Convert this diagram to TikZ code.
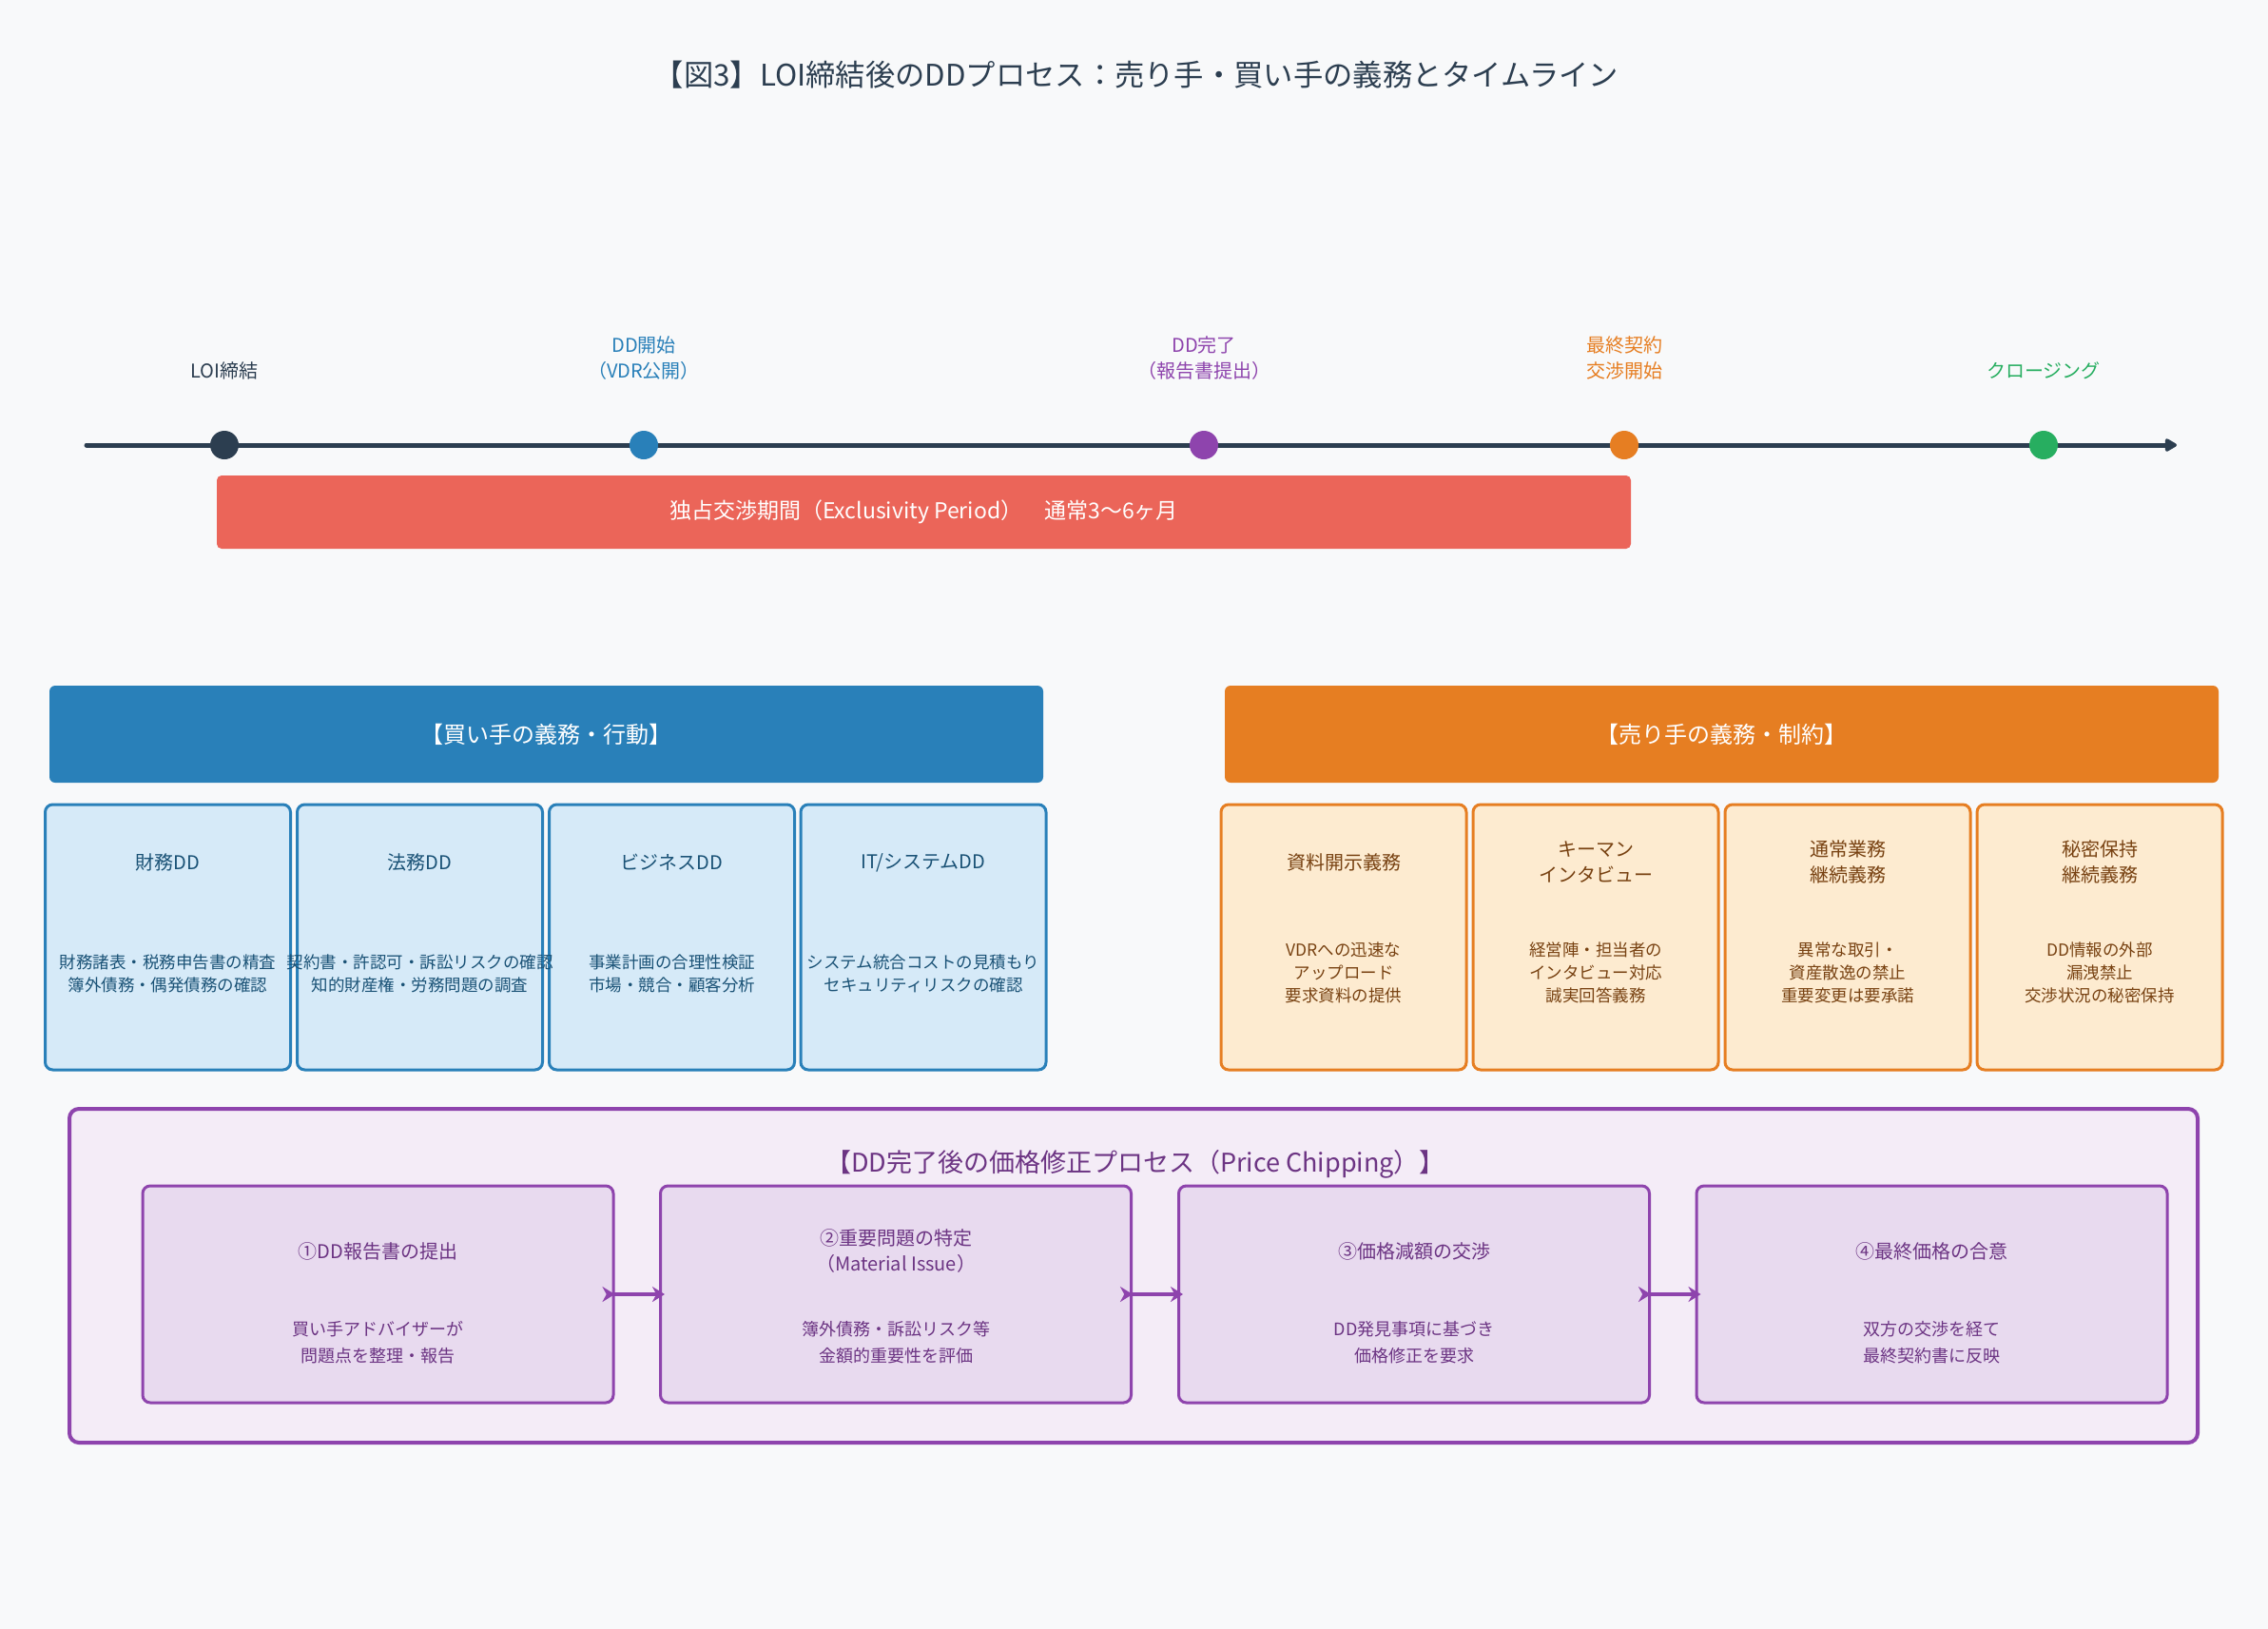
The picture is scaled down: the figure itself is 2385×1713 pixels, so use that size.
\documentclass[tikz,border=0pt]{standalone}
\usepackage{fontspec}
\setmainfont{Noto Sans CJK JP}
\usetikzlibrary{arrows.meta}
\definecolor{bg}{HTML}{F8F9FA}
\definecolor{navy}{HTML}{2C3E50}
\definecolor{cblue}{HTML}{2980B9}
\definecolor{cpurple}{HTML}{8E44AD}
\definecolor{corange}{HTML}{E67E22}
\definecolor{cgreen}{HTML}{27AE60}
\definecolor{cred}{HTML}{EB6559}
\definecolor{lblue}{HTML}{D6EAF8}
\definecolor{lorange}{HTML}{FDEBD0}
\definecolor{lpurple}{HTML}{E8DAEF}
\definecolor{llpurple}{HTML}{F4ECF7}
\definecolor{tblue}{HTML}{1A5276}
\definecolor{tbrown}{HTML}{784212}
\definecolor{tpurple}{HTML}{6C3483}
\newcommand\myfs[2]{\fontsize{#1}{#2}\selectfont}
\tikzset{
  box/.style={draw, rounded corners=8pt, line width=3pt, inner sep=0pt, minimum width=258pt, minimum height=279pt},
  bbox/.style={box, draw=cblue, fill=lblue},
  sbox/.style={box, draw=corange, fill=lorange},
  hdr/.style={rounded corners=6pt, inner sep=0pt, minimum width=1045pt, minimum height=102pt, text=white, font=\myfs{24}{30}},
  stepbox/.style={draw=cpurple, fill=lpurple, rounded corners=8pt, line width=3pt, minimum width=495pt, minimum height=228pt, inner sep=0pt},
  ttl/.style={align=center, font=\myfs{20}{27}, inner sep=0pt},
  bodytxt/.style={align=center, font=\myfs{17.5}{24}, inner sep=0pt},
  stepbody/.style={align=center, font=\myfs{18}{28}, inner sep=0pt, text=tpurple},
  lbl/.style={align=center, font=\myfs{20}{27}, inner sep=0pt},
  dot/.style={circle, minimum size=30pt, inner sep=0pt},
  flow/.style={draw=cpurple, line width=4.5pt, {Stealth[reversed,length=13pt,width=16pt]}-{Stealth[length=13pt,width=16pt]}, shorten <=-13pt, shorten >=-6pt}
}
\begin{document}
\begin{tikzpicture}[x=1pt,y=-1pt]
\useasboundingbox (0,0) rectangle (2385,1713);
\fill[bg] (0,0) rectangle (2385,1713);

% title
\node[font=\myfs{31.3}{36}, text=navy, inner sep=0pt] (title) at (1195,79) {【図3】LOI締結後のDDプロセス：売り手・買い手の義務とタイムライン};

% timeline
\coordinate (tlstart) at (91,468);
\coordinate (tlend) at (2289,468);
\draw[navy, line width=5pt, line cap=round, -{Triangle[length=14pt,width=15pt,round]}] (tlstart) -- (tlend);

\node[dot, fill=navy] (d1) at (236,468) {};
\node[dot, fill=cblue] (d2) at (677,468) {};
\node[dot, fill=cpurple] (d3) at (1266,468) {};
\node[dot, fill=corange] (d4) at (1708,468) {};
\node[dot, fill=cgreen] (d5) at (2149,468) {};

\node[lbl, text=navy] (l1) at (236,390) {LOI締結};
\node[lbl, text=cblue] (l2) at (677,376.5) {DD開始\\（VDR公開）};
\node[lbl, text=cpurple] (l3) at (1266,376.5) {DD完了\\（報告書提出）};
\node[lbl, text=corange] (l4) at (1708,376.5) {最終契約\\交渉開始};
\node[lbl, text=cgreen] (l5) at (2149,390) {クロージング};

% exclusivity bar
\node[fill=cred, rounded corners=5pt, minimum width=1487pt, minimum height=77pt, inner sep=0pt, text=white, font=\myfs{23}{27}] (excl) at (971.5,538.5) {独占交渉期間（Exclusivity Period）　通常3〜6ヶ月};

% buyer
\node[hdr, fill=cblue] (bh) at (574.5,772) {【買い手の義務・行動】};
\node[bbox] (b1) at (176.5,985.5) {};
\node[bbox] (b2) at (441.5,985.5) {};
\node[bbox] (b3) at (706.5,985.5) {};
\node[bbox] (b4) at (971,985.5) {};
\node[ttl, text=tblue] (b1t) at (176.5,907) {財務DD};
\node[ttl, text=tblue] (b2t) at (441.5,907) {法務DD};
\node[ttl, text=tblue] (b3t) at (706.5,907) {ビジネスDD};
\node[ttl, text=tblue] (b4t) at (971,907) {IT/システムDD};
\node[bodytxt, text=tblue] (b1b) at (176.5,1023.5) {財務諸表・税務申告書の精査\\簿外債務・偶発債務の確認};
\node[bodytxt, text=tblue] (b2b) at (441.5,1023.5) {契約書・許認可・訴訟リスクの確認\\知的財産権・労務問題の調査};
\node[bodytxt, text=tblue] (b3b) at (706.5,1023.5) {事業計画の合理性検証\\市場・競合・顧客分析};
\node[bodytxt, text=tblue] (b4b) at (971,1023.5) {システム統合コストの見積もり\\セキュリティリスクの確認};

% seller
\node[hdr, fill=corange] (sh) at (1810.5,772) {【売り手の義務・制約】};
\node[sbox] (s1) at (1413,985.5) {};
\node[sbox] (s2) at (1678,985.5) {};
\node[sbox] (s3) at (1943,985.5) {};
\node[sbox] (s4) at (2208,985.5) {};
\node[ttl, text=tbrown] (s1t) at (1413,907) {資料開示義務};
\node[ttl, text=tbrown] (s2t) at (1678,906.5) {キーマン\\インタビュー};
\node[ttl, text=tbrown] (s3t) at (1943,906.5) {通常業務\\継続義務};
\node[ttl, text=tbrown] (s4t) at (2208,906.5) {秘密保持\\継続義務};
\node[bodytxt, text=tbrown] (s1b) at (1413,1023) {VDRへの迅速な\\アップロード\\要求資料の提供};
\node[bodytxt, text=tbrown] (s2b) at (1678,1023) {経営陣・担当者の\\インタビュー対応\\誠実回答義務};
\node[bodytxt, text=tbrown] (s3b) at (1943,1023) {異常な取引・\\資産散逸の禁止\\重要変更は要承諾};
\node[bodytxt, text=tbrown] (s4b) at (2208,1023) {DD情報の外部\\漏洩禁止\\交渉状況の秘密保持};

% price chipping
\node[draw=cpurple, fill=llpurple, line width=4pt, rounded corners=10pt, minimum width=2238pt, minimum height=351pt, inner sep=0pt] (pc) at (1192,1341.5) {};
\node[font=\myfs{27}{31}, text=tpurple, inner sep=0pt] (pct) at (1194,1224) {【DD完了後の価格修正プロセス（Price Chipping）】};

\node[stepbox] (p1) at (397.5,1361) {};
\node[stepbox] (p2) at (942,1361) {};
\node[stepbox] (p3) at (1487,1361) {};
\node[stepbox] (p4) at (2031.5,1361) {};
\node[ttl, text=tpurple] (p1t) at (397.5,1315.5) {①DD報告書の提出};
\node[ttl, text=tpurple] (p2t) at (942,1315.5) {②重要問題の特定\\（Material Issue）};
\node[ttl, text=tpurple] (p3t) at (1487,1315.5) {③価格減額の交渉};
\node[ttl, text=tpurple] (p4t) at (2031.5,1315.5) {④最終価格の合意};
\node[stepbody] (p1b) at (397.5,1412) {買い手アドバイザーが\\問題点を整理・報告};
\node[stepbody] (p2b) at (942,1412) {簿外債務・訴訟リスク等\\金額的重要性を評価};
\node[stepbody] (p3b) at (1487,1412) {DD発見事項に基づき\\価格修正を要求};
\node[stepbody] (p4b) at (2031.5,1412) {双方の交渉を経て\\最終契約書に反映};

\draw[flow] (p1.east) -- (p2.west);
\draw[flow] (p2.east) -- (p3.west);
\draw[flow] (p3.east) -- (p4.west);
\end{tikzpicture}
\end{document}
